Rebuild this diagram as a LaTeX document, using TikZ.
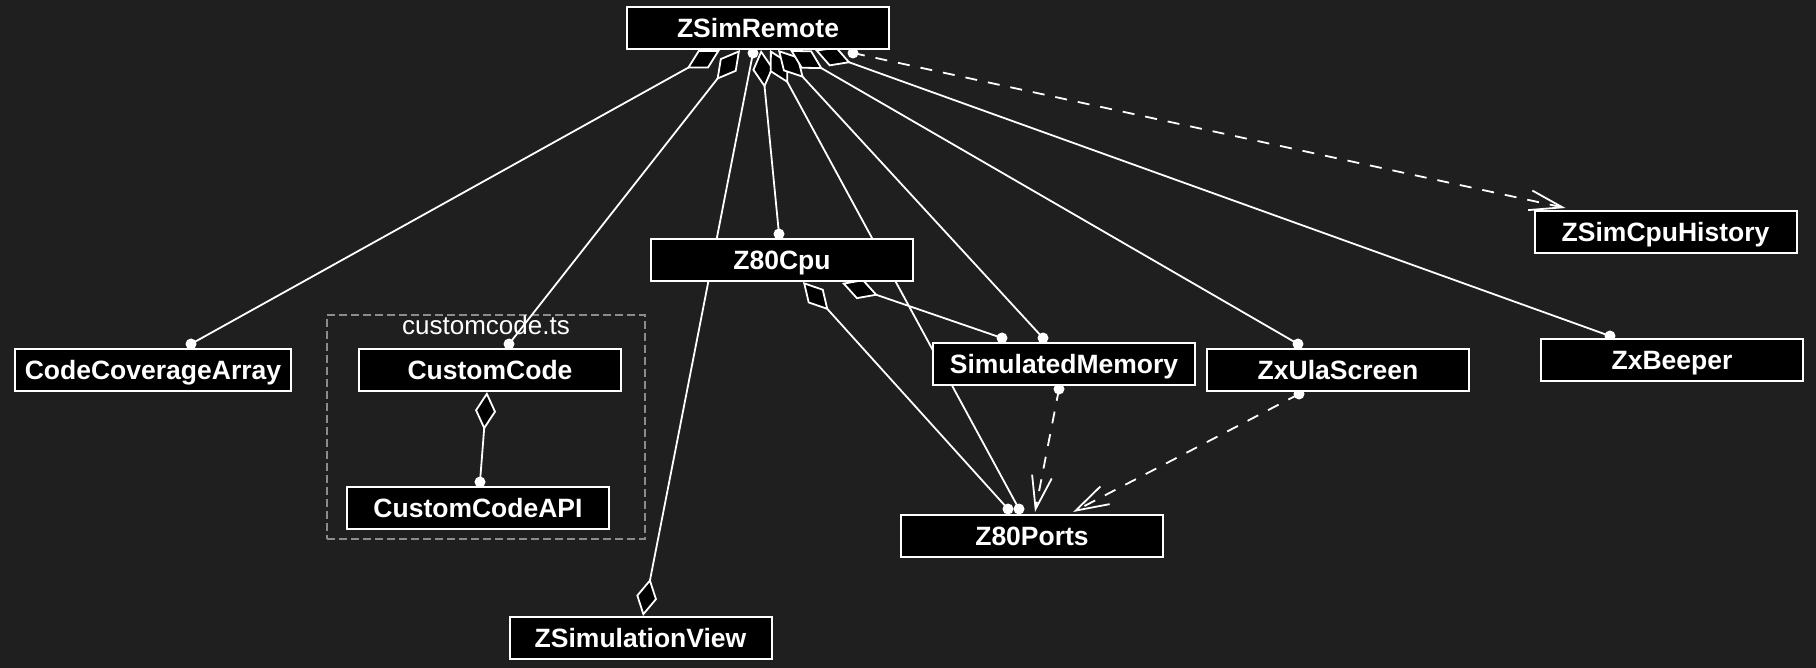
\documentclass[tikz,border=0pt]{standalone}
\usepackage{fontspec}
\setmainfont{Liberation Sans}
\usetikzlibrary{arrows.meta,calc}
\definecolor{bgc}{HTML}{1F1F1F}
\definecolor{clusterc}{HTML}{8C8C8C}
\pgfdeclarelayer{bglayer}
\pgfdeclarelayer{edgelayer}
\pgfsetlayers{bglayer,edgelayer,main}
\newcommand\aggedge[2]{\draw[agg] (#1) -- (#2); \fill[white] (#2) circle[radius=5.5pt];}
\newcommand\depedge[2]{\draw[dep] (#1) -- (#2); \fill[white] (#1) circle[radius=5.5pt];}
\begin{document}
\begin{tikzpicture}[x=1pt,y=-1pt,
  cls/.style={draw=white, line width=2pt, fill=black, text=white,
    font=\bfseries\fontsize{26.5}{30}\selectfont,
    text height=18.5pt, text depth=0pt,
    minimum width=262pt, minimum height=42pt, inner xsep=10pt, inner ysep=0pt},
  edge/.style={draw=white, line width=1.8pt},
  agg/.style={edge, {Diamond[length=38pt,width=21pt,fill=black]}-},
  dep/.style={edge, dash pattern=on 12pt off 11pt, -{Straight Barb[length=33pt,width=20pt]}},
  grp/.style={draw=clusterc, line width=1.5pt, dash pattern=on 8pt off 4pt},
  grplabel/.style={text=white, font=\fontsize{26}{30}\selectfont, inner sep=0pt}
]
\begin{pgfonlayer}{bglayer}
  \fill[bgc] (0,0) rectangle (1816,668);
\end{pgfonlayer}
\useasboundingbox (0,0) rectangle (1816,668);

% classes
\node[cls] (zsr)   at (758,28)    {ZSimRemote};
\node[cls] (cpu)   at (782,260)   {Z80Cpu};
\node[cls] (mem)   at (1064,364)  {SimulatedMemory};
\node[cls] (ports) at (1032,536)  {Z80Ports};
\node[cls] (ula)   at (1338,370)  {ZxUlaScreen};
\node[cls] (beep)  at (1672,360)  {ZxBeeper};
\node[cls] (hist)  at (1665.5,232) {ZSimCpuHistory};
\node[cls] (cca)   at (153,370)   {CodeCoverageArray};
\node[cls] (cc)    at (490,370)   {CustomCode};
\node[cls] (api)   at (478,508)   {CustomCodeAPI};
\node[cls] (view)  at (640.5,638) {ZSimulationView};

\begin{pgfonlayer}{edgelayer}
  % cluster
  \node[grp, minimum width=318pt, minimum height=224pt, inner sep=0pt] (cluster) at (486,427) {};
  \node[grplabel] (clusterlabel) at ($(cluster.north)+(0,11)$) {customcode.ts};

  % end points
  \coordinate (s1)  at ($(zsr.south)+(-38,0)$);
  \coordinate (e1)  at ($(cca.north)+(38,-4)$);
  \coordinate (s2)  at ($(zsr.south)+(-18,0)$);
  \coordinate (e2)  at ($(cc.north)+(19,-4)$);
  \coordinate (s3)  at ($(view.north)+(2.5,0)$);
  \coordinate (e3)  at ($(zsr.south)+(-5,3)$);
  \coordinate (s4)  at ($(zsr.south)+(3,0)$);
  \coordinate (e4)  at ($(cpu.north)+(-3,-4)$);
  \coordinate (s5)  at ($(zsr.south)+(12,0)$);
  \coordinate (e5)  at ($(ports.north)+(-13,-5)$);
  \coordinate (s6)  at ($(zsr.south)+(20,0)$);
  \coordinate (e6)  at ($(mem.north)+(-21,-4)$);
  \coordinate (s7)  at ($(zsr.south)+(32,0)$);
  \coordinate (e7)  at ($(ula.north)+(-40,-4)$);
  \coordinate (s8)  at ($(zsr.south)+(57,0)$);
  \coordinate (e8)  at ($(beep.north)+(-62,-2)$);
  \coordinate (s9)  at ($(cpu.south)+(21,0)$);
  \coordinate (e9)  at ($(ports.north)+(-24,-5)$);
  \coordinate (s10) at ($(cpu.south)+(60,1)$);
  \coordinate (e10) at ($(mem.north)+(-62,-4)$);
  \coordinate (s11) at ($(cc.south)+(-3,0)$);
  \coordinate (e11) at ($(api.north)+(2,-4)$);
  \coordinate (s12) at ($(mem.south)+(-5,3)$);
  \coordinate (e12) at ($(ports.north)+(3,-2)$);
  \coordinate (s13) at ($(ula.south)+(-39,2)$);
  \coordinate (e13) at ($(ports.north)+(41,-2)$);
  \coordinate (s14) at ($(zsr.south)+(95,3)$);
  \coordinate (e14) at ($(hist.north)+(-100,-2)$);

  % aggregation edges
  \aggedge{s1}{e1}
  \aggedge{s2}{e2}
  \aggedge{s3}{e3}
  \aggedge{s4}{e4}
  \aggedge{s5}{e5}
  \aggedge{s6}{e6}
  \aggedge{s7}{e7}
  \aggedge{s8}{e8}
  \aggedge{s9}{e9}
  \aggedge{s10}{e10}
  \aggedge{s11}{e11}
  % dependency edges
  \depedge{s12}{e12}
  \depedge{s13}{e13}
  \depedge{s14}{e14}
\end{pgfonlayer}
\end{tikzpicture}
\end{document}
